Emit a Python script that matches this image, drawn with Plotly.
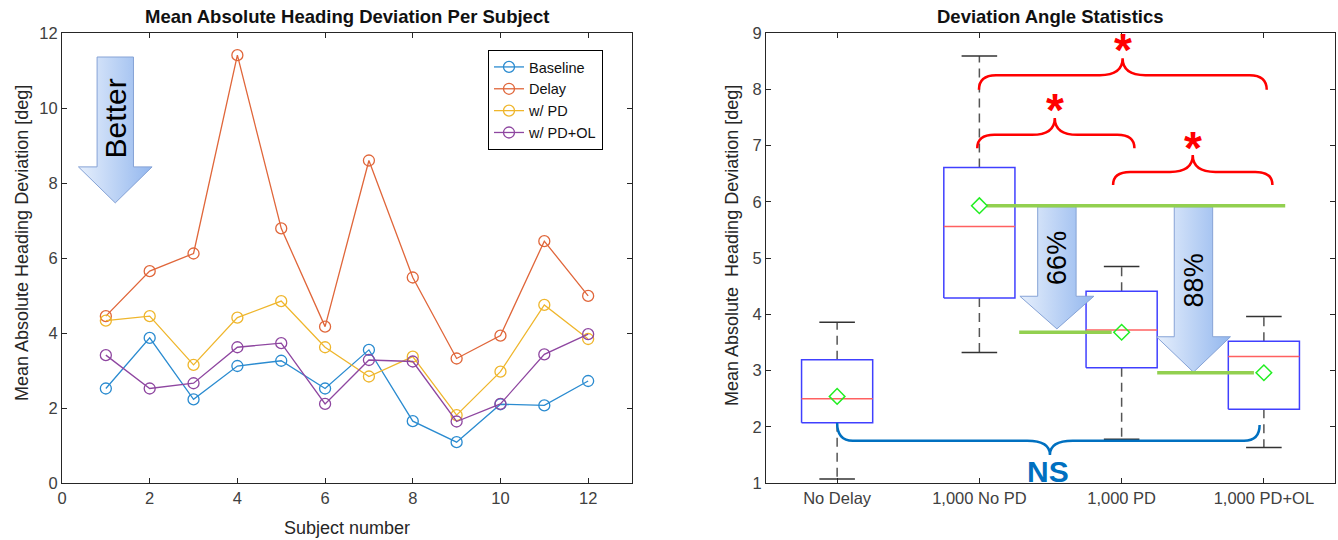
import plotly.graph_objects as go

# ---------------- data ----------------
subjects = list(range(1, 13))
baseline = [2.52, 3.87, 2.23, 3.12, 3.26, 2.52, 3.55, 1.65, 1.09, 2.10, 2.07, 2.72]
delay = [4.45, 5.65, 6.12, 11.41, 6.79, 4.17, 8.60, 5.48, 3.32, 3.93, 6.45, 4.99]
with_pd = [4.33, 4.45, 3.15, 4.41, 4.85, 3.62, 2.84, 3.37, 1.81, 2.97, 4.75, 3.84]
with_pd_ol = [3.41, 2.52, 2.66, 3.62, 3.73, 2.11, 3.28, 3.24, 1.64, 2.11, 3.43, 3.97]
series_names = ["Baseline", "Delay", "w/ PD", "w/ PD+OL"]

conditions = ["No Delay", "1,000 No PD", "1,000 PD", "1,000 PD+OL"]
q1 = [2.07, 4.29, 3.05, 2.31]
median = [2.50, 5.56, 3.72, 3.25]
q3 = [3.19, 6.61, 4.41, 3.52]
lower_whisker = [1.07, 3.32, 1.78, 1.63]
upper_whisker = [3.86, 8.59, 4.85, 3.96]
means = [2.54, 5.93, 3.68, 2.96]
improvement_labels = ["66%", "88%"]

left_ticks = [0, 2, 4, 6, 8, 10, 12]
right_yticks = [1, 2, 3, 4, 5, 6, 7, 8, 9]

# ---------------- styles ----------------
FONT = "Liberation Sans"
AX = "#262626"
TICKC = "#404040"
line_colors = ["#2a8bd0", "#e0663a", "#efb62c", "#8e46a0"]

fig = go.Figure()

# ---- left: line chart ----
for name, vals, col in zip(series_names, [baseline, delay, with_pd, with_pd_ol], line_colors):
    fig.add_trace(go.Scatter(
        x=subjects, y=vals, name=name, mode="lines+markers",
        line=dict(color=col, width=1.3),
        marker=dict(symbol="circle-open", size=11, color=col, line=dict(width=1.3, color=col)),
        xaxis="x", yaxis="y", hoverinfo="skip"))


def block_arrow(xc, shaft_half, head_half, y_top, y_head, y_tip):
    xs = [xc - shaft_half, xc + shaft_half, xc + shaft_half, xc + head_half, xc,
          xc - head_half, xc - shaft_half, xc - shaft_half]
    ys = [y_top, y_top, y_head, y_head, y_tip, y_head, y_head, y_top]
    return xs, ys


arrow_grad = dict(type="horizontal", colorscale=[[0, "#e6effc"], [1, "#93b7ee"]])

# "Better" arrow (left panel)
bx, by = block_arrow(1.215, 0.415, 0.84, 11.36, 8.43, 7.47)
fig.add_trace(go.Scatter(x=bx, y=by, mode="lines", fill="toself", fillgradient=arrow_grad,
                         line=dict(color="#86a3d6", width=1), xaxis="x", yaxis="y",
                         showlegend=False, hoverinfo="skip"))

# ---- right: box plot ----
xpos = [i + 1 for i in range(len(conditions))]
BW = 0.25
CW = 0.125
for i, xc in enumerate(xpos):
    # whiskers
    fig.add_trace(go.Scatter(x=[xc, xc, None, xc, xc],
                             y=[q3[i], upper_whisker[i], None, q1[i], lower_whisker[i]],
                             mode="lines", line=dict(color="#555555", width=1.5, dash="9px,6px"),
                             xaxis="x2", yaxis="y2", showlegend=False, hoverinfo="skip"))
    # caps
    fig.add_trace(go.Scatter(x=[xc - CW, xc + CW, None, xc - CW, xc + CW],
                             y=[upper_whisker[i], upper_whisker[i], None, lower_whisker[i], lower_whisker[i]],
                             mode="lines", line=dict(color="#333333", width=1.5),
                             xaxis="x2", yaxis="y2", showlegend=False, hoverinfo="skip"))
    # box
    fig.add_trace(go.Scatter(x=[xc - BW, xc + BW, xc + BW, xc - BW, xc - BW],
                             y=[q1[i], q1[i], q3[i], q3[i], q1[i]],
                             mode="lines", line=dict(color="#4040ff", width=1.5),
                             xaxis="x2", yaxis="y2", showlegend=False, hoverinfo="skip"))
    # median
    fig.add_trace(go.Scatter(x=[xc - BW, xc + BW], y=[median[i], median[i]],
                             mode="lines", line=dict(color="#ff6060", width=1.5),
                             xaxis="x2", yaxis="y2", showlegend=False, hoverinfo="skip"))

# improvement arrows
for (xc, yt, yh, ytip) in [(2.545, 5.91, 4.32, 3.74), (3.505, 5.91, 3.60, 2.97)]:
    ax_, ay_ = block_arrow(xc, 0.135, 0.26, yt, yh, ytip)
    fig.add_trace(go.Scatter(x=ax_, y=ay_, mode="lines", fill="toself", fillgradient=arrow_grad,
                             line=dict(color="#86a3d6", width=1), xaxis="x2", yaxis="y2",
                             showlegend=False, hoverinfo="skip"))

# green reference lines
green_lines = [(2.05, 4.15, means[1]), (2.28, 2.93, means[2]), (3.25, 3.93, means[3])]
for x0, x1, yv in green_lines:
    fig.add_trace(go.Scatter(x=[x0, x1], y=[yv, yv], mode="lines",
                             line=dict(color="#92d050", width=3.5),
                             xaxis="x2", yaxis="y2", showlegend=False, hoverinfo="skip"))

# means
fig.add_trace(go.Scatter(x=xpos, y=means, mode="markers",
                         marker=dict(symbol="diamond-open", size=12, color="#22ee22",
                                     line=dict(width=1.5, color="#22ee22")),
                         xaxis="x2", yaxis="y2", showlegend=False, hoverinfo="skip"))


def brace(xa, xb, xm, ya, yb, yl, ytip, r_end, r_mid):
    return (f"M{xa},{ya} Q{xa},{yl} {xa + r_end},{yl} L{xm - r_mid},{yl} "
            f"Q{xm},{yl} {xm},{ytip} Q{xm},{yl} {xm + r_mid},{yl} "
            f"L{xb - r_end},{yl} Q{xb},{yl} {xb},{yb}")


shapes = []
red_braces = [
    (1.997, 4.02, 3.007, 7.99, 7.99, 8.25, 8.55),
    (1.985, 3.09, 2.53, 6.95, 6.95, 7.19, 7.49),
    (2.94, 4.06, 3.50, 6.30, 6.30, 6.53, 6.83),
]
for xa, xb, xm, ya, yb, yl, yt in red_braces:
    shapes.append(dict(type="path", xref="x2", yref="y2",
                       path=brace(xa, xb, xm, ya, yb, yl, yt, 0.12, 0.16),
                       line=dict(color="#ff0000", width=2.5), layer="above"))
shapes.append(dict(type="path", xref="x2", yref="y2",
                   path=brace(1.0, 3.97, 2.496, 2.07, 2.03, 1.75, 1.50, 0.11, 0.16),
                   line=dict(color="#0070c0", width=2.5), layer="above"))

W, H = 1338, 540
L_X0, L_X1 = 62, 632
R_X0, R_X1 = 766, 1335
Y_TOP, Y_BOT = 33, 483

annotations = [
    dict(text="<b>Mean Absolute Heading Deviation Per Subject</b>", x=(L_X0 + L_X1) / 2 / W,
         y=1 - 17 / H, xref="paper", yref="paper", showarrow=False,
         font=dict(family=FONT, size=18.5, color="#111111"), xanchor="center", yanchor="middle"),
    dict(text="<b>Deviation Angle Statistics</b>", x=(R_X0 + R_X1) / 2 / W,
         y=1 - 17 / H, xref="paper", yref="paper", showarrow=False,
         font=dict(family=FONT, size=18.5, color="#111111"), xanchor="center", yanchor="middle"),
    dict(text="Mean Absolute Heading Deviation [deg]", x=22 / W, y=1 - 243 / H,
         xref="paper", yref="paper", showarrow=False, textangle=-90,
         font=dict(family=FONT, size=18, color=AX), xanchor="center", yanchor="middle"),
    dict(text="Mean Absolute\u00a0 Heading Deviation [deg]", x=732 / W, y=1 - 246 / H,
         xref="paper", yref="paper", showarrow=False, textangle=-90,
         font=dict(family=FONT, size=18, color=AX), xanchor="center", yanchor="middle"),
    dict(text="Subject number", x=(L_X0 + L_X1) / 2 / W, y=1 - 528 / H,
         xref="paper", yref="paper", showarrow=False,
         font=dict(family=FONT, size=18, color=AX), xanchor="center", yanchor="middle"),
    dict(text="Better", x=1.215, y=9.73, xref="x", yref="y", showarrow=False, textangle=-90,
         font=dict(family=FONT, size=30, color="#000000"), xanchor="center", yanchor="middle"),
    dict(text=improvement_labels[0], x=2.545, y=5.0, xref="x2", yref="y2", showarrow=False,
         textangle=-90, font=dict(family=FONT, size=27, color="#000000"),
         xanchor="center", yanchor="middle"),
    dict(text=improvement_labels[1], x=3.505, y=4.61, xref="x2", yref="y2", showarrow=False,
         textangle=-90, font=dict(family=FONT, size=27, color="#000000"),
         xanchor="center", yanchor="middle"),
    dict(text="<b>NS</b>", x=2.48, y=1.2, xref="x2", yref="y2", showarrow=False,
         font=dict(family=FONT, size=30, color="#0070c0"), xanchor="center", yanchor="middle"),
]
for xs, ys in [(3.007, 8.69), (2.53, 7.63), (3.50, 6.96)]:
    annotations.append(dict(text="<b>*</b>", x=xs, y=ys, xref="x2", yref="y2", showarrow=False,
                            font=dict(family=FONT, size=46, color="#ff0000"),
                            xanchor="center", yanchor="middle"))

axis_common = dict(showline=True, linecolor=AX, linewidth=1, mirror="ticks", ticks="inside",
                   ticklen=5, tickcolor=AX, tickwidth=1, showgrid=False, zeroline=False,
                   automargin=False,
                   tickfont=dict(family=FONT, size=16.5, color=TICKC))

fig.update_layout(
    width=W, height=H, autosize=False,
    margin=dict(l=0, r=0, t=0, b=0, pad=0),
    paper_bgcolor="white", plot_bgcolor="white",
    showlegend=True,
    legend=dict(x=488 / W, y=1 - 50 / H, xanchor="left", yanchor="top",
                bordercolor="#000000", borderwidth=1, bgcolor="white",
                font=dict(family=FONT, size=14.5, color="#111111")),
    xaxis=dict(domain=[L_X0 / W, L_X1 / W], range=[0, 13], tickvals=left_ticks,
               anchor="y", **axis_common),
    yaxis=dict(domain=[1 - Y_BOT / H, 1 - Y_TOP / H], range=[0, 12], tickvals=left_ticks,
               anchor="x", **axis_common),
    xaxis2=dict(domain=[R_X0 / W, R_X1 / W], range=[0.5, 4.5], tickvals=xpos,
                ticktext=conditions, anchor="y2", **axis_common),
    yaxis2=dict(domain=[1 - Y_BOT / H, 1 - Y_TOP / H], range=[1, 9], tickvals=right_yticks,
                anchor="x2", **axis_common),
    shapes=shapes,
    annotations=annotations,
)

fig.write_html("out.html")
